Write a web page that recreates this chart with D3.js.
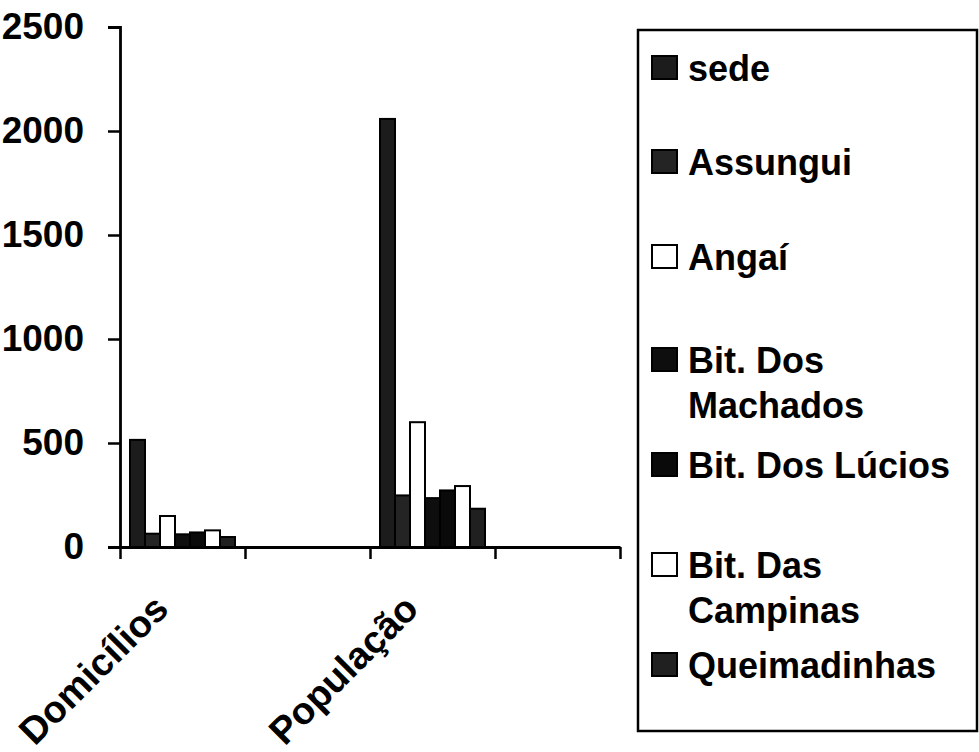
<!DOCTYPE html>
<html><head><meta charset="utf-8">
<script src="https://cdn.jsdelivr.net/npm/d3@7"></script>
<style>body{margin:0;background:#fff}svg{display:block}</style>
</head><body><svg id="c" width="979" height="752"></svg>
<script>
// ---- data ----
const categories = ["Domicílios", "", "População", ""];
const seriesNames = ["sede", "Assungui", "Angaí", "Bit. Dos Machados", "Bit. Dos Lúcios", "Bit. Das Campinas", "Queimadinhas"];
const domiciliosValues = [515, 64, 149, 61, 70, 80, 48];
const populacaoValues = [2058, 248, 600, 235, 272, 293, 184];
const seriesColors = ["#1c1c1c", "#242424", "#ffffff", "#0e0e0e", "#0a0a0a", "#ffffff", "#202020"];
const yTicks = [0, 500, 1000, 1500, 2000, 2500];

const valuesByCategory = [domiciliosValues, null, populacaoValues, null];

// ---- layout ----
const svg = d3.select("#c");
const FONT = "'Liberation Sans', Arial, sans-serif";
const plotL = 120, plotR = 620, plotT = 27, plotB = 547;

const y = d3.scaleLinear().domain([0, 2500]).range([plotB, plotT]);
const x = d3.scaleBand().domain(d3.range(categories.length)).range([plotL, plotR]).paddingInner(0).paddingOuter(0);
const xBounds = d3.scaleLinear().domain([0, categories.length]).range([plotL, plotR]);
const xs = d3.scaleBand().domain(seriesNames).range([10, x.bandwidth() - 10]).padding(0);

// bars
const g = svg.append("g");
categories.forEach((c, ci) => {
  const vals = valuesByCategory[ci];
  if (!vals) return;
  g.selectAll(null).data(vals).enter().append("rect")
    .attr("x", (d, i) => x(ci) + xs(seriesNames[i]))
    .attr("y", d => y(d))
    .attr("width", xs.bandwidth())
    .attr("height", d => y(0) - y(d))
    .attr("fill", (d, i) => seriesColors[i])
    .attr("stroke", "#000")
    .attr("stroke-width", 2);
});

// y axis
const ya = svg.append("g").attr("transform", `translate(${plotL},0)`)
  .call(d3.axisLeft(y).tickValues(yTicks).tickSize(12).tickPadding(24).tickFormat(d3.format("d")));
ya.select(".domain").attr("stroke", "#000").attr("stroke-width", 2.8);
ya.selectAll(".tick line").attr("stroke", "#000").attr("stroke-width", 2.5);
ya.selectAll(".tick text").attr("font-family", FONT).attr("font-weight", "bold").attr("font-size", 37).attr("fill", "#000");

// x axis (ticks at category boundaries)
const xa = svg.append("g").attr("transform", `translate(0,${plotB})`)
  .call(d3.axisBottom(xBounds).tickValues(d3.range(categories.length + 1)).tickSize(12).tickSizeOuter(0).tickFormat(""));
xa.select(".domain").attr("stroke", "#000").attr("stroke-width", 2.8);
xa.selectAll(".tick line").attr("stroke", "#000").attr("stroke-width", 2.5);

// category labels
categories.forEach((c, ci) => {
  if (!c) return;
  const cx = x(ci) + x.bandwidth() / 2 - 12;
  svg.append("text")
    .attr("transform", `translate(${cx},611) rotate(-45)`)
    .attr("text-anchor", "end")
    .attr("font-family", FONT).attr("font-weight", "bold").attr("font-size", 38)
    .text(c);
});

// legend
const lg = svg.append("g");
lg.append("rect").attr("x", 638).attr("y", 30).attr("width", 339).attr("height", 701)
  .attr("fill", "none").attr("stroke", "#000").attr("stroke-width", 2.5);
const textX = 688, maxW = 282;
const legendRowY = [68, 162, 257, 360, 465, 565, 665];
seriesNames.forEach((name, i) => {
  const cy = legendRowY[i];
  lg.append("rect").attr("x", 652).attr("y", cy - 12).attr("width", 25).attr("height", 23)
    .attr("fill", seriesColors[i]).attr("stroke", "#000").attr("stroke-width", 2);
  const t = lg.append("text").attr("font-family", FONT).attr("font-weight", "bold").attr("font-size", 36).attr("fill", "#000");
  // wrap words
  const words = name.split(" ");
  let line = [], lineNo = 0;
  let ts = t.append("tspan").attr("x", textX).attr("y", cy + 13);
  words.forEach(w => {
    line.push(w);
    ts.text(line.join(" "));
    if (ts.node().getComputedTextLength() > maxW && line.length > 1) {
      line.pop();
      ts.text(line.join(" "));
      line = [w];
      lineNo++;
      ts = t.append("tspan").attr("x", textX).attr("y", cy + 13 + lineNo * 45).text(w);
    }
  });
});
</script>
</body></html>
